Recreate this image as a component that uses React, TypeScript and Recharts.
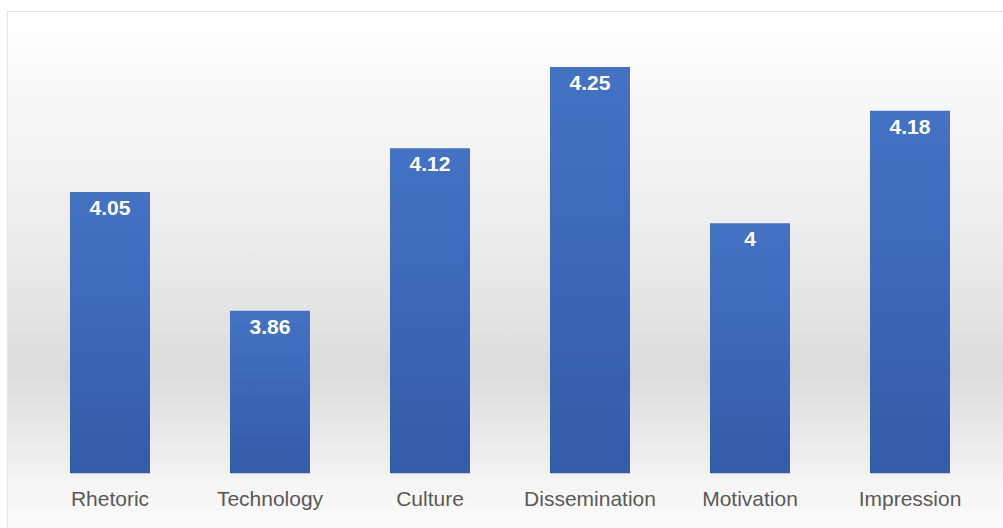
import { Bar, BarChart, LabelList, XAxis, YAxis } from "recharts";

const categories = ["Rhetoric", "Technology", "Culture", "Dissemination", "Motivation", "Impression"];
const scores = [4.05, 3.86, 4.12, 4.25, 4, 4.18];

const data = categories.map((name, i) => ({ name, score: scores[i] }));

const font = '"Liberation Sans", Arial, sans-serif';

const App = () => {
	return (
		<div style={{ position: "absolute", left: 0, top: 0, width: 1003, height: 528, fontFamily: font }}>
			<div
				style={{
					position: "absolute",
					left: 7,
					top: 11,
					width: 996,
					height: 517,
					boxSizing: "border-box",
					borderTop: "1px solid #e4e4e4",
					borderLeft: "1px solid #e4e4e4",
					background: "linear-gradient(to bottom, #ffffff 0%, #ebebeb 45%, #dcdcdc 70%, #f5f5f5 92%, #fbfbfb 100%)",
				}}
			/>
			<BarChart
				width={1003}
				height={528}
				data={data}
				margin={{ top: 35.6, right: 13, left: 30, bottom: 24.5 }}
				style={{ position: "absolute", left: 0, top: 0 }}
			>
				<defs>
					<linearGradient id="barFill" x1="0" y1="0" x2="0" y2="1">
						<stop offset="0%" stopColor="#4472c4" />
						<stop offset="100%" stopColor="#335ca9" />
					</linearGradient>
				</defs>
				<XAxis
					dataKey="name"
					axisLine={false}
					tickLine={false}
					tickMargin={12}
					interval={0}
					tick={{ fill: "#595959", fontSize: 21, fontFamily: font }}
				/>
				<YAxis hide domain={[3.6, 4.3]} allowDataOverflow />
				<Bar dataKey="score" fill="url(#barFill)" barSize={80} isAnimationActive={false}>
					<LabelList
						dataKey="score"
						position="insideTop"
						offset={8}
						fill="#ffffff"
						fontSize={21}
						fontWeight="bold"
						fontFamily={font}
					/>
				</Bar>
			</BarChart>
		</div>
	);
};

export default App;
